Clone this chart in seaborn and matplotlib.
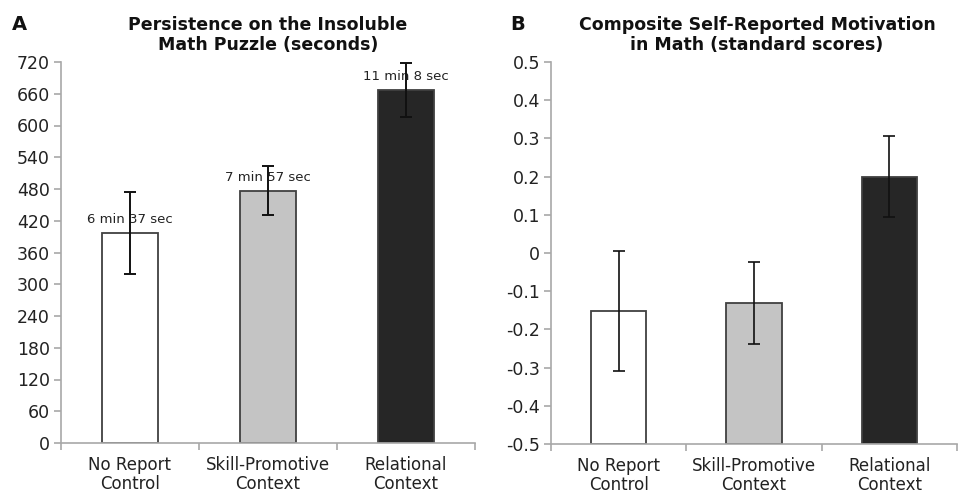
import matplotlib
matplotlib.use("Agg")
import matplotlib.pyplot as plt
import seaborn as sns
import pandas as pd
import numpy as np

# ---- data ----
categories = ["No Report\nControl", "Skill-Promotive\nContext", "Relational\nContext"]
persistence_sec = [397, 477, 668]
persistence_err = [78, 46, 51]
persistence_labels = ["6 min 37 sec", "7 min 57 sec", "11 min 8 sec"]
persistence_ticks = [0, 60, 120, 180, 240, 300, 360, 420, 480, 540, 600, 660, 720]

motivation = [-0.153, -0.130, 0.200]
motivation_err = [0.157, 0.107, 0.107]
motivation_ticks = [-0.5, -0.4, -0.3, -0.2, -0.1, 0.0, 0.1, 0.2, 0.3, 0.4, 0.5]
motivation_tick_labels = ["-0.5", "-0.4", "-0.3", "-0.2", "-0.1", "0", "0.1", "0.2", "0.3", "0.4", "0.5"]

title_a = "Persistence on the Insoluble\nMath Puzzle (seconds)"
title_b = "Composite Self-Reported Motivation\nin Math (standard scores)"

bar_colors = ["#ffffff", "#c4c4c4", "#262626"]

sns.set_theme(style="white")
plt.rcParams["font.family"] = ["DejaVu Sans"]

fig = plt.figure(figsize=(9.58, 4.96), dpi=100)
axA = fig.add_axes([61 / 958, 53 / 496, 414 / 958, 381 / 496])
axB = fig.add_axes([551 / 958, 52 / 496, 406 / 958, 382 / 496])

spine_col = "#a8a8a8"
text_col = "#222222"


def style_axis(ax):
    ax.set_xlim(-0.5, 2.5)
    for s in ["top", "right"]:
        ax.spines[s].set_visible(False)
    for s in ["left", "bottom"]:
        ax.spines[s].set_color(spine_col)
        ax.spines[s].set_linewidth(1.2)
    ax.set_xticks(range(len(categories)))
    ax.set_xticklabels(categories, fontsize=12, color=text_col, linespacing=1.08)
    ax.set_xticks([-0.5, 0.5, 1.5, 2.5], minor=True)
    ax.tick_params(axis="x", which="major", length=0, pad=9.5)
    ax.tick_params(axis="x", which="minor", length=5, width=1.2, color=spine_col, direction="out", bottom=True)
    ax.tick_params(axis="y", which="major", length=5, width=1.2, color=spine_col, direction="out",
                   left=True, labelsize=12.5, labelcolor=text_col, pad=3)
    ax.set_xlabel("")
    ax.set_ylabel("")
    ax.grid(False)


# ---- Panel A ----
dfA = pd.DataFrame({"condition": categories, "seconds": persistence_sec})
sns.barplot(data=dfA, x="condition", y="seconds", hue="condition", palette=bar_colors,
            legend=False, errorbar=None, width=0.41, edgecolor="#404040", linewidth=1.3, ax=axA)
axA.errorbar(x=np.arange(len(categories)), y=persistence_sec, yerr=persistence_err, fmt="none",
             ecolor="#111111", elinewidth=1.4, capsize=4.5, capthick=1.4, zorder=5)
for i, (v, lab) in enumerate(zip(persistence_sec, persistence_labels)):
    axA.annotate(lab, (i, v), xytext=(0, 9.5), textcoords="offset points", ha="center", va="center",
                 fontsize=9.5, color=text_col)
axA.set_ylim(0, 720)
axA.set_yticks(persistence_ticks)
axA.set_yticklabels([str(t) for t in persistence_ticks])
style_axis(axA)

# ---- Panel B ----
baseB = motivation_ticks[0]
dfB = pd.DataFrame({"condition": categories, "score": motivation})
dfB["height"] = dfB["score"] - baseB
sns.barplot(data=dfB, x="condition", y="height", hue="condition", palette=bar_colors,
            legend=False, errorbar=None, width=0.41, edgecolor="#404040", linewidth=1.3,
            bottom=baseB, ax=axB)
axB.errorbar(x=np.arange(len(categories)), y=motivation, yerr=motivation_err, fmt="none",
             ecolor="#111111", elinewidth=1.2, capsize=4.5, capthick=1.2, zorder=5)
axB.set_ylim(-0.5, 0.5)
axB.set_yticks(motivation_ticks)
axB.set_yticklabels(motivation_tick_labels)
style_axis(axB)

# ---- Titles & panel letters ----
fig.text(268 / 958, 1 - 35 / 496, title_a, ha="center", va="center", fontsize=12.5,
         fontweight="bold", color="#111111", linespacing=1.1)
fig.text(757 / 958, 1 - 35 / 496, title_b, ha="center", va="center", fontsize=12.5,
         fontweight="bold", color="#111111", linespacing=1.1)
fig.text(12 / 958, 1 - 25 / 496, "A", ha="left", va="center", fontsize=14, fontweight="bold", color="#111111")
fig.text(510 / 958, 1 - 25 / 496, "B", ha="left", va="center", fontsize=14, fontweight="bold", color="#111111")

fig.savefig("out.png", dpi=100)
